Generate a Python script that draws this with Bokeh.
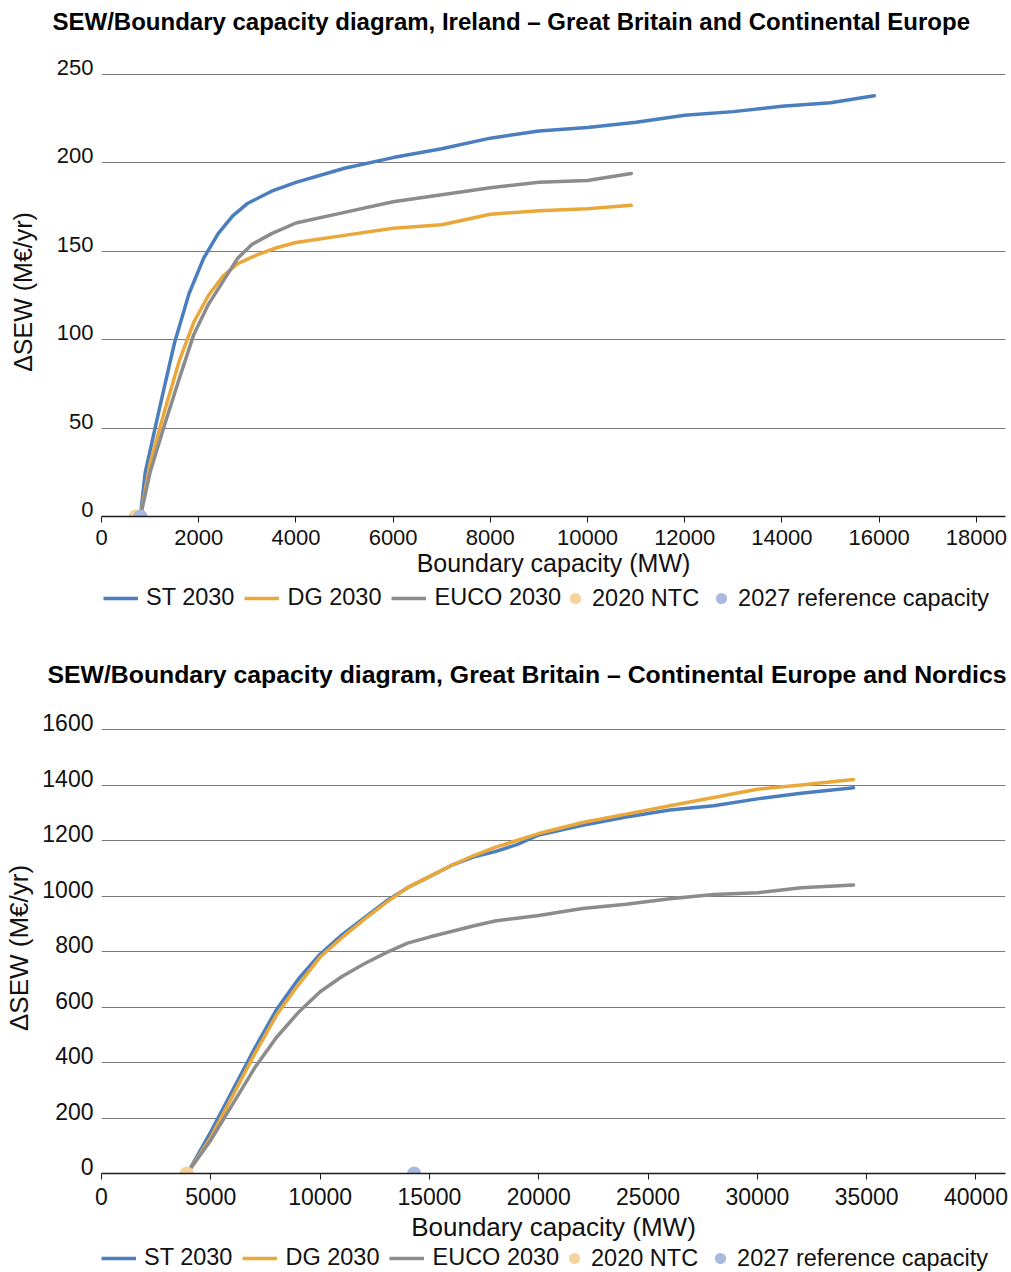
from bokeh.plotting import figure
from bokeh.models import (Range1d, FixedTicker, Legend, LegendItem, BasicTickFormatter, LinearAxis)
from bokeh.layouts import column
from bokeh.embed import file_html
from bokeh.resources import INLINE

# ---------------- data: chart 1 (Ireland – GB and Continental Europe) ----------------
ie_st_x = [800, 900, 1200, 1500, 1800, 2100, 2400, 2700, 3000, 3500, 4000, 5000, 6000,
           7000, 8000, 9000, 10000, 11000, 12000, 13000, 14000, 15000, 15900]
ie_st_y = [0, 25, 62, 98, 126, 146, 160, 170, 177, 184, 189, 197, 203,
           208, 214, 218, 220, 223, 227, 229, 232, 234, 238]
ie_dg_x = [800, 1000, 1300, 1600, 1900, 2200, 2500, 2800, 3200, 3600, 4000, 5000, 6000,
           7000, 8000, 9000, 10000, 10900]
ie_dg_y = [0, 30, 60, 88, 110, 125, 136, 143, 148, 152, 155, 159, 163,
           165, 171, 173, 174, 176]
ie_eu_x = [800, 1000, 1300, 1600, 1900, 2200, 2500, 2800, 3100, 3500, 4000, 5000, 6000,
           7000, 8000, 9000, 10000, 10900]
ie_eu_y = [0, 25, 52, 78, 103, 120, 133, 146, 154, 160, 166, 172, 178,
           182, 186, 189, 190, 194]
ie_ntc = [700, 0]
ie_ref = [800, 0]
ie_xticks = [0, 2000, 4000, 6000, 8000, 10000, 12000, 14000, 16000, 18000]
ie_yticks = [0, 50, 100, 150, 200, 250]

# ---------------- data: chart 2 (GB – Continental Europe and Nordics) ----------------
gb_x = [4000, 5000, 6000, 7000, 8000, 9000, 10000, 11000, 12000, 13000, 14000, 15000,
        16000, 17000, 18000, 19000, 20000, 22000, 24000, 26000, 28000, 30000, 32000, 34400]
gb_st_y = [10, 150, 300, 450, 590, 700, 790, 860, 920, 980, 1030, 1070,
           1110, 1140, 1160, 1185, 1220, 1255, 1285, 1310, 1325, 1350, 1370, 1390]
gb_dg_y = [10, 130, 280, 430, 570, 680, 780, 850, 915, 975, 1030, 1070,
           1110, 1145, 1175, 1200, 1225, 1265, 1295, 1325, 1355, 1385, 1400, 1420]
gb_eu_y = [10, 120, 250, 380, 490, 580, 655, 710, 755, 795, 830, 852,
           872, 892, 910, 920, 930, 955, 970, 990, 1005, 1012, 1030, 1040]
gb_ntc = [3900, 0]
gb_ref = [14300, 0]
gb_xticks = [0, 5000, 10000, 15000, 20000, 25000, 30000, 35000, 40000]
gb_yticks = [0, 200, 400, 600, 800, 1000, 1200, 1400, 1600]

titles = ["SEW/Boundary capacity diagram, Ireland \u2013 Great Britain and Continental Europe",
          "SEW/Boundary capacity diagram, Great Britain \u2013 Continental Europe and Nordics"]
series_names = ["ST 2030", "DG 2030", "EUCO 2030", "2020 NTC", "2027 reference capacity"]
x_title = "Boundary capacity (MW)"
y_title = "\u0394SEW (M\u20ac/yr)"

C_ST = "#4a7ebf"
C_DG = "#eaa83a"
C_EU = "#8c8c8c"
C_NTC = "#f6d39c"
C_REF = "#a8b8df"
FONT = "Liberation Sans"
W = 1011
B_LEFT = 101
B_RIGHT = 6
LAB_SHIFT = 7  # y tick labels sit this many px above their gridline
NAN = float("nan")


def blank_fig(height):
    q = figure(width=W, height=height, output_backend="svg", toolbar_location=None,
               x_range=Range1d(0, 1), y_range=Range1d(0, 1),
               min_border_left=B_LEFT, min_border_right=B_RIGHT,
               min_border_top=0, min_border_bottom=0,
               x_axis_location=None, y_axis_location=None)
    q.outline_line_color = None
    q.grid.visible = False
    return q


def make_title(text, height, size, offset, standoff):
    t = blank_fig(height)
    t.title.text = text
    t.title.text_font = FONT
    t.title.text_font_size = f"{size}px"
    t.title.text_font_style = "bold"
    t.title.text_color = "#000000"
    t.title.align = "left"
    t.title.offset = offset
    t.title.standoff = standoff
    return t


def make_fig(height, xmax, ymax, xticks, yticks, b_top, b_bottom, tick_size, lab_size,
             ylab_standoff, xtick_standoff, xlab_standoff, lines, ntc, ref):
    frame_h = height - b_top - b_bottom
    d = LAB_SHIFT * ymax / (frame_h - LAB_SHIFT)
    p = figure(width=W, height=height, output_backend="svg", toolbar_location=None,
               x_range=Range1d(0, xmax), y_range=Range1d(0, ymax + d),
               min_border_left=B_LEFT, min_border_right=B_RIGHT, min_border_top=b_top,
               min_border_bottom=b_bottom)
    p.outline_line_color = None

    p.xgrid.visible = False
    p.ygrid.ticker = FixedTicker(ticks=yticks)
    p.ygrid.grid_line_color = "#7a7a7a"
    p.ygrid.grid_line_width = 1.1

    xa = p.xaxis[0]
    xa.ticker = FixedTicker(ticks=xticks)
    xa.formatter = BasicTickFormatter(use_scientific=False)
    xa.axis_line_color = "#1a1a1a"
    xa.axis_line_width = 1.5
    xa.major_tick_line_color = "#1a1a1a"
    xa.major_tick_out = 6
    xa.major_tick_in = 0
    xa.minor_tick_out = 0
    xa.minor_tick_in = 0
    xa.major_label_text_font = FONT
    xa.major_label_text_font_size = f"{tick_size}px"
    xa.major_label_text_color = "#111111"
    xa.major_label_standoff = xtick_standoff
    xa.axis_label = x_title
    xa.axis_label_text_font = FONT
    xa.axis_label_text_font_size = f"{lab_size}px"
    xa.axis_label_text_font_style = "normal"
    xa.axis_label_text_color = "#111111"
    xa.axis_label_standoff = xlab_standoff

    p.yaxis[0].visible = False
    p.extra_y_ranges = {"labels": Range1d(-d, ymax)}
    ya = LinearAxis(y_range_name="labels", ticker=FixedTicker(ticks=yticks))
    ya.axis_line_color = None
    ya.major_tick_line_color = None
    ya.minor_tick_line_color = None
    ya.major_label_text_font = FONT
    ya.major_label_text_font_size = f"{tick_size}px"
    ya.major_label_text_color = "#111111"
    ya.major_label_standoff = 2
    ya.axis_label = y_title
    ya.axis_label_text_font = FONT
    ya.axis_label_text_font_size = f"{lab_size}px"
    ya.axis_label_text_font_style = "normal"
    ya.axis_label_text_color = "#111111"
    ya.axis_label_standoff = ylab_standoff
    p.add_layout(ya, "left")

    for xs, ys, col in lines:
        p.line(xs, ys, line_color=col, line_width=3.5, line_cap="round", line_join="round")
    p.scatter([ntc[0]], [ntc[1]], size=14, fill_color=C_NTC, line_color=None)
    p.scatter([ref[0]], [ref[1]], size=14, fill_color=C_REF, line_color=None)
    return p


def make_legend(height, loc_lines, loc_dots):
    q = blank_fig(height)
    line_items = []
    for col, name in zip([C_ST, C_DG, C_EU], series_names[:3]):
        r = q.line([NAN], [NAN], line_color=col, line_width=3.5)
        line_items.append(LegendItem(label=name, renderers=[r]))
    dot_items = []
    for col, name in zip([C_NTC, C_REF], series_names[3:]):
        r = q.scatter([NAN], [NAN], size=11, fill_color=col, line_color=None)
        dot_items.append(LegendItem(label=name, renderers=[r]))
    common = dict(orientation="horizontal", label_text_font=FONT,
                  label_text_font_size="23.5px", label_text_color="#111111",
                  padding=0, margin=0, border_line_color=None, background_fill_alpha=0)
    leg_a = Legend(items=line_items, location=loc_lines, glyph_width=35, glyph_height=20,
                   label_standoff=8, spacing=10, **common)
    leg_b = Legend(items=dot_items, location=loc_dots, glyph_width=28, glyph_height=28,
                   label_standoff=3, spacing=8, **common)
    q.add_layout(leg_a, "center")
    q.add_layout(leg_b, "center")
    return q


t1 = make_title(titles[0], 47, 24, -49, 11)
p1 = make_fig(533, 18600, 250, ie_xticks, ie_yticks, b_top=20, b_bottom=64,
              tick_size=22, lab_size=25, ylab_standoff=17, xtick_standoff=7, xlab_standoff=1,
              lines=[(ie_st_x, ie_st_y, C_ST), (ie_dg_x, ie_dg_y, C_DG), (ie_eu_x, ie_eu_y, C_EU)],
              ntc=ie_ntc, ref=ie_ref)
l1 = make_legend(73, (2, 42), (460, 41))

t2 = make_title(titles[1], 47, 24.8, -54, 11)
p2 = make_fig(544, 41350, 1600, gb_xticks, gb_yticks, b_top=22, b_bottom=71,
              tick_size=23, lab_size=26, ylab_standoff=5, xtick_standoff=8, xlab_standoff=4,
              lines=[(gb_x, gb_st_y, C_ST), (gb_x, gb_dg_y, C_DG), (gb_x, gb_eu_y, C_EU)],
              ntc=gb_ntc, ref=gb_ref)
l2 = make_legend(27, (0, 0), (459, -1))

layout = column(t1, p1, l1, t2, p2, l2)
open("out.html", "w").write(file_html(layout, INLINE))
